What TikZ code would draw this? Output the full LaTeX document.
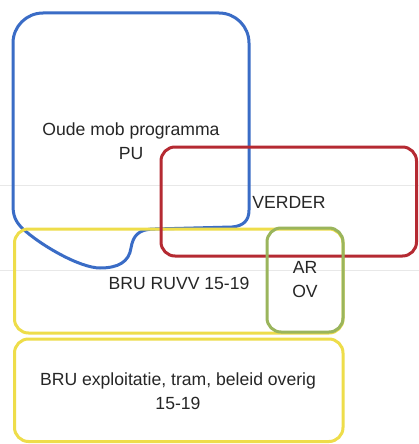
\documentclass[tikz,border=0pt]{standalone}
\usepackage{fontspec}
\setmainfont{Liberation Sans}
\definecolor{cblue}{HTML}{3A6CC6}
\definecolor{cred}{HTML}{B52A32}
\definecolor{cyellow}{HTML}{EEDD4A}
\definecolor{cgreen}{HTML}{9AB55C}
\begin{document}
\begin{tikzpicture}[x=1pt,y=-1pt,
  outline/.style={line width=3pt, rounded corners=14pt},
  lbl/.style={align=center, font=\fontsize{17.6}{24}\selectfont, text=black!85, inner sep=0pt}]
\useasboundingbox (0,0) rectangle (419,444);
\fill[white] (0,0) rectangle (419,444);
% faint scan lines
\draw[gray!18, line width=1pt] (0,185) -- (419,185);
\draw[gray!18, line width=1pt] (0,270) -- (419,270);
% blue shape
\draw[cblue, line width=3pt]
  (13,205) -- (13,43) arc[start angle=180, end angle=270, radius=30]
  -- (219,13) arc[start angle=270, end angle=360, radius=30]
  -- (249,210)
  .. controls (249,221) and (243,226) .. (232,227)
  -- (155,229)
  .. controls (138,229) and (133,236) .. (131,248)
  .. controls (129,262) and (118,268) .. (100,268)
  .. controls (80,268) and (40,245) .. (22,228)
  .. controls (15,221) and (13,215) .. (13,205) -- cycle;
% yellow boxes
\draw[outline, cyellow] (14.5,229) rectangle (343,333);
\draw[outline, cyellow] (14.5,339) rectangle (343,441.5);
% red box
\draw[outline, cred] (161,147) rectangle (416.5,256);
% green box
\draw[outline, cgreen] (267,228) rectangle (343,332);
% labels
\node[lbl] (oude) at (131,141) {Oude mob programma\\PU};
\node[lbl] (verder) at (289,202) {VERDER};
\node[lbl] (ruvv) at (179,283) {BRU RUVV 15-19};
\node[lbl] (arov) at (305,280) {AR\\OV};
\node[lbl] (expl) at (178,391) {BRU exploitatie, tram, beleid overig\\15-19};
\end{tikzpicture}
\end{document}
